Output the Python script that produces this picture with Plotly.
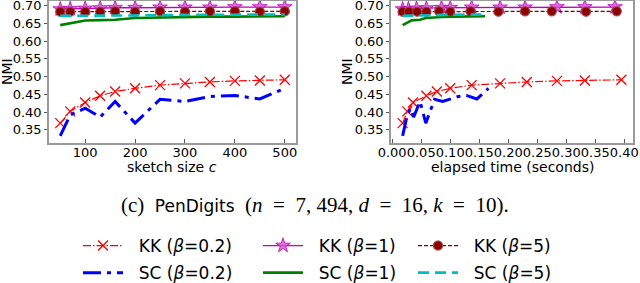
import plotly.graph_objects as go

# ---- data ----
sketch_size = [50, 70, 100, 130, 160, 200, 250, 300, 350, 400, 450, 500]

kk_02 = [0.369, 0.402, 0.427, 0.446, 0.458, 0.467, 0.476, 0.481, 0.485, 0.488, 0.489, 0.491]
kk_1 = [0.690, 0.691, 0.692, 0.693, 0.694, 0.694, 0.695, 0.695, 0.695, 0.696, 0.696, 0.696]
kk_5 = [0.683, 0.683, 0.683, 0.683, 0.684, 0.683, 0.684, 0.683, 0.684, 0.684, 0.683, 0.684]
sc_02 = [0.333, 0.392, 0.411, 0.386, 0.430, 0.369, 0.436, 0.430, 0.444, 0.447, 0.437, 0.467]
sc_1 = [0.645, 0.651, 0.658, 0.659, 0.660, 0.665, 0.667, 0.668, 0.669, 0.669, 0.670, 0.670]
sc_5 = [0.671, 0.671, 0.671, 0.672, 0.672, 0.673, 0.673, 0.674, 0.674, 0.674, 0.675, 0.675]

t_kk_02 = [0.018, 0.026, 0.036, 0.059, 0.077, 0.100, 0.137, 0.186, 0.232, 0.284, 0.332, 0.395]
t_kk_1 = [0.018, 0.028, 0.042, 0.059, 0.085, 0.100, 0.137, 0.186, 0.229, 0.284, 0.332, 0.384]
t_kk_5 = [0.018, 0.029, 0.043, 0.059, 0.081, 0.100, 0.135, 0.183, 0.229, 0.275, 0.334, 0.387]
t_sc_02 = [0.018, 0.026, 0.032, 0.037, 0.048, 0.058, 0.073, 0.087, 0.114, 0.128, 0.146, 0.166]
t_sc_1 = [0.018, 0.025, 0.033, 0.038, 0.048, 0.058, 0.072, 0.086, 0.110, 0.125, 0.142, 0.160]
t_sc_5 = [0.018, 0.025, 0.032, 0.038, 0.048, 0.058, 0.072, 0.086, 0.110, 0.126, 0.143, 0.161]

x_ticks_left = [100, 200, 300, 400, 500]
y_ticks = [0.35, 0.40, 0.45, 0.50, 0.55, 0.60, 0.65, 0.70]
x_ticks_right = [0.00, 0.05, 0.10, 0.15, 0.20, 0.25, 0.30, 0.35, 0.40]

names = ["KK (<i>β</i>=0.2)", "KK (<i>β</i>=1)", "KK (<i>β</i>=5)",
         "SC (<i>β</i>=0.2)", "SC (<i>β</i>=1)", "SC (<i>β</i>=5)"]

W, H = 640, 283
FONT = "DejaVu Sans"

styles = [
    dict(mode="lines+markers", line=dict(color="#ff0000", width=1.2, dash="8px,2px,1.5px,2px"),
         marker=dict(symbol="x-thin-open", size=10, line=dict(color="rgba(255,40,40,0.75)", width=1.3))),
    dict(mode="lines+markers", line=dict(color="#bf00bf", width=1.3),
         marker=dict(symbol="star", size=11, color="rgba(210,80,210,0.8)", line=dict(color="#bf00bf", width=0.8))),
    dict(mode="lines+markers", line=dict(color="#800000", width=1.2, dash="4px,2px"),
         marker=dict(symbol="circle", size=9, color="#8b0000", line=dict(color="rgba(160,60,60,0.8)", width=1.5))),
    dict(mode="lines", line=dict(color="#0000ff", width=3, dash="18px,6px,4px,6px")),
    dict(mode="lines", line=dict(color="#008000", width=2.6)),
    dict(mode="lines", line=dict(color="#00bfbf", width=2.6, dash="11px,6px")),
]
legends = ["legend", "legend2", "legend3", "legend", "legend2", "legend3"]

left_y = [kk_02, kk_1, kk_5, sc_02, sc_1, sc_5]
right_x = [t_kk_02, t_kk_1, t_kk_5, t_sc_02, t_sc_1, t_sc_5]

fig = go.Figure()
for i in range(6):
    fig.add_trace(go.Scatter(x=sketch_size, y=left_y[i], name="\u00a0\u00a0" + names[i], xaxis="x", yaxis="y",
                             legend=legends[i], legendgroup="g%d" % i, **styles[i]))
for i in range(6):
    fig.add_trace(go.Scatter(x=right_x[i], y=left_y[i], name=names[i], xaxis="x2", yaxis="y2",
                             showlegend=False, **styles[i]))

axis_common = dict(showline=True, linecolor="#9a9a9a", linewidth=1.5, mirror=True,
                   showgrid=False, zeroline=False, tickfont=dict(family=FONT, size=13, color="black"),
                   ticks="inside", ticklen=4, tickcolor="#555", tickwidth=1,
                   ticklabeloverflow="allow", automargin=False)
xaxis_common = dict(axis_common, ticklabelstandoff=-3)
yaxis_common = dict(axis_common, ticks="outside", ticklen=3, range=[0.313, 0.713],
                    tickvals=y_ticks, ticktext=["%.2f" % v for v in y_ticks])

ytop, ybot = 1, 143
ydom = [1 - ybot / H, 1 - ytop / H]

fig.update_layout(
    width=W, height=H, margin=dict(l=0, r=0, t=0, b=0, autoexpand=False),
    paper_bgcolor="white", plot_bgcolor="white",
    font=dict(family=FONT, color="black"),
    xaxis=dict(xaxis_common, domain=[49 / W, 296 / W], range=[27.5, 522.5],
               tickvals=x_ticks_left, ticktext=[str(v) for v in x_ticks_left], anchor="y"),
    yaxis=dict(yaxis_common, domain=ydom, anchor="x"),
    xaxis2=dict(xaxis_common, domain=[391 / W, 633 / W], range=[-0.002, 0.415], tickangle=0,
                tickvals=x_ticks_right, ticktext=["%.2f" % v for v in x_ticks_right], anchor="y2"),
    yaxis2=dict(yaxis_common, domain=ydom, anchor="x2"),
    showlegend=True,
)

leg_common = dict(orientation="v", bgcolor="rgba(0,0,0,0)", borderwidth=0, tracegroupgap=2,
                  itemwidth=40, font=dict(family=FONT, size=17, color="black"),
                  xanchor="left", yanchor="bottom", y=-8 / H)
fig.update_layout(
    legend=dict(leg_common, x=78 / W),
    legend2=dict(leg_common, x=258 / W),
    legend3=dict(leg_common, x=413 / W),
)

ann = []
ann.append(dict(text="NMI", x=7 / W, y=1 - 72 / H, xref="paper", yref="paper", showarrow=False,
                textangle=-90, font=dict(family=FONT, size=14), xanchor="center", yanchor="middle"))
ann.append(dict(text="NMI", x=347 / W, y=1 - 72 / H, xref="paper", yref="paper", showarrow=False,
                textangle=-90, font=dict(family=FONT, size=14), xanchor="center", yanchor="middle"))
ann.append(dict(text="sketch size <i>c</i>", x=172 / W, y=1 - 166.5 / H, xref="paper", yref="paper",
                showarrow=False, font=dict(family=FONT, size=14), xanchor="center", yanchor="middle"))
ann.append(dict(text="elapsed time (seconds)", x=512 / W, y=1 - 166.5 / H, xref="paper", yref="paper",
                showarrow=False, font=dict(family=FONT, size=14), xanchor="center", yanchor="middle"))
cap = ("(c)\u2002<span style='font-family:DejaVu Sans;font-size:17px'>PenDigits</span>\u2002"
       "(<i>n</i>\u2002=\u20027, 494, <i>d</i>\u2002=\u200216, <i>k</i>\u2002=\u200210).")
ann.append(dict(text=cap, x=315 / W, y=1 - 205 / H, xref="paper", yref="paper", showarrow=False,
                font=dict(family="Liberation Serif", size=21), xanchor="center", yanchor="middle"))
fig.update_layout(annotations=ann)

fig.write_html("out.html", config={"displayModeBar": False},
               post_script="document.body.style.margin='0';document.body.style.padding='0';")
